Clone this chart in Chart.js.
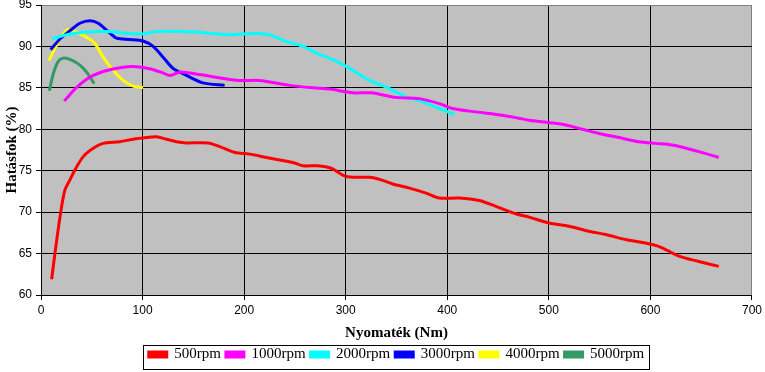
<!DOCTYPE html>
<html>
<head>
<meta charset="utf-8">
<script src="https://cdn.jsdelivr.net/npm/chart.js@4/dist/chart.umd.min.js"></script>
<style>
  html, body { margin: 0; padding: 0; background: #fff; }
  #wrap { width: 765px; height: 372px; }
</style>
</head>
<body>
<div id="wrap"><canvas id="eff-chart" width="765" height="372"></canvas></div>
<script>
// torque (Nm) / efficiency (%) pairs
const rpm500_x = [10.5, 13.8, 19.3, 23.6, 28.5, 33.4, 41.6, 51.4, 61.2, 77.6, 90.7, 103.9, 113.7, 123.5, 133.4, 143.2, 164.4, 175.9, 190.7, 205.4, 221.8, 234.9, 248, 257.8, 272.5, 285.7, 300.4, 323.3, 334.8, 346.3, 362.7, 379.1, 392.1, 411.8, 431.4, 447.9, 467.5, 480.6, 500.2, 519.9, 539.5, 556, 575.6, 601.8, 611.6, 628, 647.7, 667.3];
const rpm500_y = [61.9, 65.1, 69.9, 72.7, 73.9, 75.1, 76.7, 77.7, 78.3, 78.5, 78.8, 79.0, 79.1, 78.8, 78.5, 78.35, 78.35, 77.9, 77.2, 77.0, 76.6, 76.3, 76.0, 75.6, 75.6, 75.3, 74.3, 74.2, 73.9, 73.4, 72.9, 72.3, 71.7, 71.7, 71.4, 70.7, 69.8, 69.4, 68.7, 68.3, 67.7, 67.3, 66.7, 66.1, 65.7, 64.7, 64.05, 63.45];

const rpm1000_x = [22.9, 35.1, 48.2, 64.6, 80.9, 94, 107.1, 120.2, 126.8, 136.6, 146.4, 166.1, 193.9, 215.2, 244.7, 267.6, 284, 306.9, 325, 349.6, 372.5, 392.1, 405.2, 428.2, 454.4, 480.6, 513.3, 533, 549.4, 569, 588.7, 605, 621.4, 647.7, 667.3];
const rpm1000_y = [83.4, 85.05, 86.3, 87.1, 87.5, 87.55, 87.3, 86.8, 86.5, 86.9, 86.8, 86.4, 85.9, 85.9, 85.3, 85.0, 84.85, 84.4, 84.4, 83.85, 83.7, 83.1, 82.5, 82.1, 81.7, 81.1, 80.6, 80.0, 79.5, 79.0, 78.5, 78.3, 78.1, 77.3, 76.6];

const rpm2000_x = [10.5, 25.3, 41.6, 64.6, 84.2, 100.5, 113.7, 136.6, 156.3, 166.1, 185.7, 212, 225.1, 241.5, 257.9, 271, 287.4, 303.8, 323.5, 343.1, 359.4, 372.5, 406.9];
const rpm2000_y = [90.9, 91.4, 91.7, 91.8, 91.6, 91.5, 91.8, 91.8, 91.7, 91.6, 91.4, 91.6, 91.4, 90.6, 90.0, 89.2, 88.4, 87.35, 85.9, 84.9, 83.9, 83.45, 81.8];

const rpm3000_x = [9.5, 18.7, 28.5, 38.3, 48.2, 56.3, 66.1, 74.4, 87.5, 100.5, 110.4, 120.2, 130, 143.2, 159.5, 180.8];
const rpm3000_y = [89.6, 90.9, 91.9, 92.8, 93.1, 92.8, 91.8, 91.0, 90.85, 90.65, 90.0, 88.7, 87.35, 86.5, 85.6, 85.3];

const rpm4000_x = [7.9, 15.4, 25.3, 33.4, 44.9, 53.1, 61.2, 71.1, 80.9, 90.7, 100.5];
const rpm4000_y = [88.3, 90.15, 92.0, 91.8, 91.1, 90.35, 88.7, 87.1, 85.9, 85.2, 85.05];

const rpm5000_x = [8.2, 12.1, 17, 22.6, 30.2, 38.3, 44.9, 52.4];
const rpm5000_y = [84.65, 86.7, 88.2, 88.6, 88.35, 87.75, 86.9, 85.5];

const seriesNames = ["500rpm", "1000rpm", "2000rpm", "3000rpm", "4000rpm", "5000rpm"];
const seriesX = [rpm500_x, rpm1000_x, rpm2000_x, rpm3000_x, rpm4000_x, rpm5000_x];
const seriesY = [rpm500_y, rpm1000_y, rpm2000_y, rpm3000_y, rpm4000_y, rpm5000_y];

const COLORS = ["#ff0000", "#ff00ff", "#00ffff", "#0000ff", "#ffff00", "#339966"];

const X_MIN = 0, X_MAX = 700, X_STEP = 100;
const Y_MIN = 60, Y_MAX = 95, Y_STEP = 5;

const datasets = seriesNames.map((name, i) => ({
    label: name,
    data: seriesX[i].map((x, j) => ({ x: x, y: seriesY[i][j] })),
    borderColor: COLORS[i],
    backgroundColor: COLORS[i],
    borderWidth: 3,
    pointRadius: 0,
    tension: 0.3,
    fill: false,
}));

// grey plot background, legend centred under the plot, legend frame
const excelLook = {
    id: "excelLook",
    afterLayout(chart) {
        const lg = chart.legend, a = chart.chartArea;
        const shift = ((a.left + a.right) - (lg.left + lg.right)) / 2;
        lg.left += shift;
        lg.right += shift;
        if (lg.adjustHitBoxes) lg.adjustHitBoxes();
    },
    beforeDraw(chart) {
        const { ctx, chartArea: a } = chart;
        ctx.save();
        ctx.fillStyle = "#c0c0c0";
        ctx.fillRect(a.left, a.top, a.right - a.left, a.bottom - a.top);
        ctx.restore();
    },
    afterDraw(chart) {
        const lg = chart.legend;
        const ctx = chart.ctx;
        const w = lg.lineWidths[0] + 6;
        const cx = (lg.left + lg.right) / 2;
        const left = Math.round(cx - w / 2) + 0.5;
        ctx.save();
        ctx.strokeStyle = "#000";
        ctx.lineWidth = 1;
        ctx.strokeRect(left, 345.5, Math.round(w), 24);
        ctx.restore();
    }
};

const ctx = document.getElementById("eff-chart").getContext("2d");
new Chart(ctx, {
    type: "line",
    data: { datasets },
    plugins: [excelLook],
    options: {
        responsive: false,
        animation: false,
        layout: { padding: { left: 0, right: 12, top: 0, bottom: 0 } },
        plugins: {
            legend: {
                position: "bottom",
                labels: {
                    color: "#000",
                    font: { family: "'Liberation Serif', 'Times New Roman', serif", size: 15 },
                    boxWidth: 18,
                    boxHeight: 5,
                    padding: 5,
                }
            },
            tooltip: { enabled: false }
        },
        scales: {
            x: {
                type: "linear",
                min: X_MIN, max: X_MAX,
                afterFit: s => { s.height = 47; },
                ticks: {
                    stepSize: X_STEP,
                    color: "#000",
                    padding: 3,
                    font: { family: "'Liberation Sans', Arial, sans-serif", size: 12 }
                },
                grid: {
                    color: c => (c.tick && c.tick.value === X_MAX) ? "#808080" : "#000",
                    tickColor: "#000",
                    tickLength: 5,
                    lineWidth: 1,
                },
                border: { color: "#000", width: 1 },
                title: {
                    display: true,
                    text: "Nyomaték (Nm)",
                    color: "#000",
                    padding: { top: 4, bottom: 0 },
                    font: { family: "'Liberation Serif', 'Times New Roman', serif", size: 15, weight: "bold" }
                }
            },
            y: {
                min: Y_MIN, max: Y_MAX,
                afterFit: s => { s.width = 41; s.paddingTop = 5; s.paddingBottom = 0; },
                ticks: {
                    stepSize: Y_STEP,
                    color: "#000",
                    padding: 4,
                    font: { family: "'Liberation Sans', Arial, sans-serif", size: 12 }
                },
                grid: {
                    color: c => (c.tick && c.tick.value === Y_MAX) ? "#808080" : "#000",
                    tickColor: "#000",
                    tickLength: 5,
                    lineWidth: 1,
                },
                border: { color: "#000", width: 1 },
                title: {
                    display: true,
                    text: "Hatásfok (%)",
                    color: "#000",
                    padding: { top: 3, bottom: 0 },
                    font: { family: "'Liberation Serif', 'Times New Roman', serif", size: 15, weight: "bold" }
                }
            }
        }
    }
});
</script>
</body>
</html>
